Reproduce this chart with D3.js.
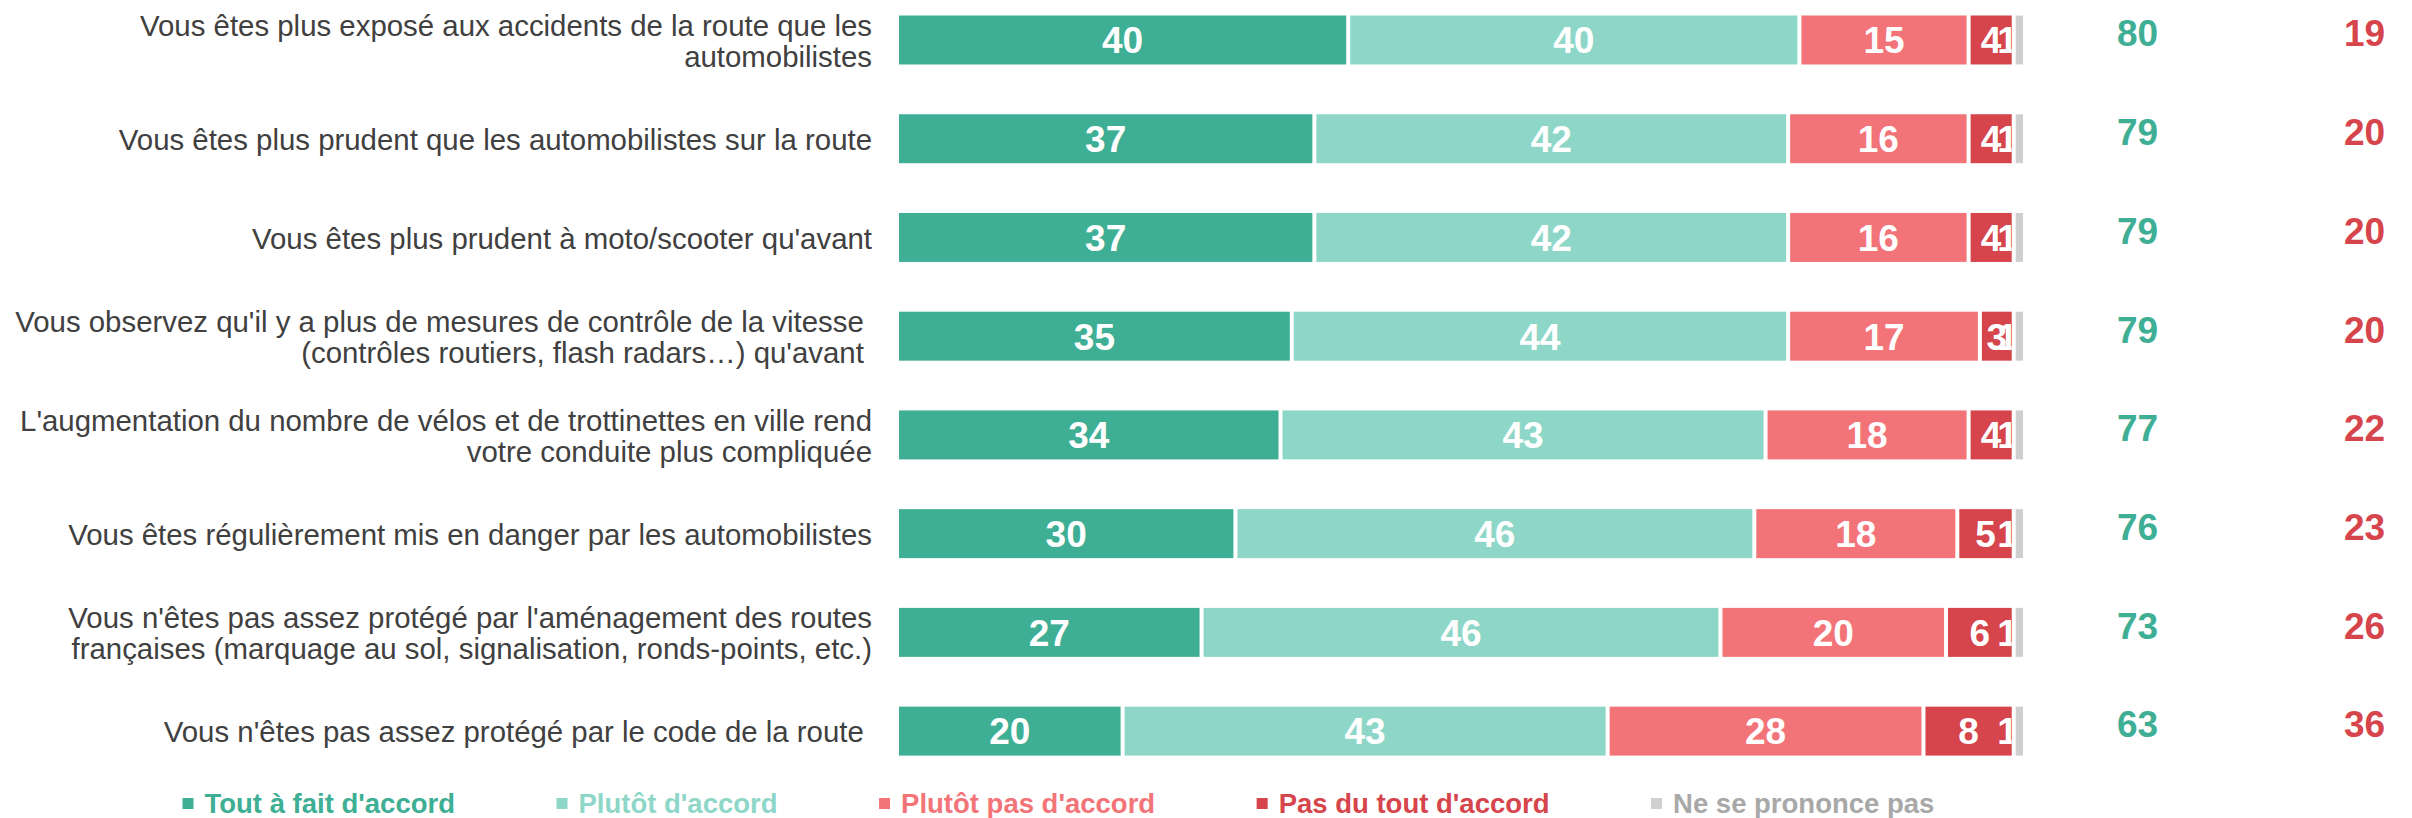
<!DOCTYPE html>
<html>
<head>
<meta charset="utf-8">
<script src="https://cdn.jsdelivr.net/npm/d3@7"></script>
<style>
  body { margin: 0; background: #fff; }
  svg { display: block; font-family: Arial, "Liberation Sans", sans-serif; }
</style>
</head>
<body>
<script>
// statements (each line of a label is one entry)
var labels = [
  ["Vous êtes plus exposé aux accidents de la route que les", "automobilistes"],
  ["Vous êtes plus prudent que les automobilistes sur la route"],
  ["Vous êtes plus prudent à moto/scooter qu'avant"],
  ["Vous observez qu'il y a plus de mesures de contrôle de la vitesse ", "(contrôles routiers, flash radars…) qu'avant "],
  ["L'augmentation du nombre de vélos et de trottinettes en ville rend", "votre conduite plus compliquée"],
  ["Vous êtes régulièrement mis en danger par les automobilistes"],
  ["Vous n'êtes pas assez protégé par l'aménagement des routes", "françaises (marquage au sol, signalisation, ronds-points, etc.)"],
  ["Vous n'êtes pas assez protégé par le code de la route "]
];

var series = ["Tout à fait d'accord", "Plutôt d'accord", "Plutôt pas d'accord", "Pas du tout d'accord", "Ne se prononce pas"];
var colors = ["#3eae94", "#8ed7c8", "#f27478", "#d6444c", "#d0cfd0"];
var legendTextColors = ["#3eae94", "#8ed7c8", "#f27478", "#d6444c", "#a8a8a8"];

var toutAFait  = [40, 37, 37, 35, 34, 30, 27, 20];
var plutot     = [40, 42, 42, 44, 43, 46, 46, 43];
var plutotPas  = [15, 16, 16, 17, 18, 18, 20, 28];
var pasDuTout  = [4, 4, 4, 3, 4, 5, 6, 8];
var nsp        = [1, 1, 1, 1, 1, 1, 1, 1];

var totalAccord    = [80, 79, 79, 79, 77, 76, 73, 63];
var totalPasAccord = [19, 20, 20, 20, 22, 23, 26, 36];

var w = 2412;
var h = 818;
var gap = 4;

var svg = d3.select("body")
  .append("svg")
  .attr("width", w)
  .attr("height", h);

var values = [toutAFait, plutot, plutotPas, pasDuTout, nsp];
var rows = labels.map(function(l, i) {
  var cum = 0;
  var segs = values.map(function(arr, k) {
    var s = {k: k, start: cum, v: arr[i], row: i};
    cum += arr[i];
    return s;
  });
  return {i: i, label: l, segs: segs};
});

var xScale = d3.scaleLinear().domain([0, 100]).range([899, 2027]);
var yScale = d3.scaleBand()
  .domain(d3.range(labels.length))
  .range([15.5, 755.6])
  .paddingInner(0.504)
  .paddingOuter(0);

var defs = svg.append("defs");

var g = svg.selectAll("g.row")
  .data(rows)
  .enter()
  .append("g")
  .attr("class", "row");

// clip for the "1" label of Ne se prononce pas: stays inside the dark red segment
g.each(function(d) {
  var red = d.segs[3];
  defs.append("clipPath")
    .attr("id", "clip" + d.i)
    .append("rect")
    .attr("x", xScale(red.start))
    .attr("y", yScale(d.i))
    .attr("width", xScale(red.start + red.v) - xScale(red.start) - gap)
    .attr("height", yScale.bandwidth());
});

g.selectAll("rect.seg")
  .data(function(d) { return d.segs; })
  .enter()
  .append("rect")
  .attr("class", "seg")
  .attr("x", function(d) { return xScale(d.start); })
  .attr("y", function(d) { return yScale(d.row); })
  .attr("width", function(d) { return Math.max(0, xScale(d.start + d.v) - xScale(d.start) - gap); })
  .attr("height", yScale.bandwidth())
  .attr("fill", function(d) { return colors[d.k]; });

// values inside bars
g.selectAll("text.val")
  .data(function(d) { return d.segs; })
  .enter()
  .append("text")
  .attr("class", "val")
  .attr("x", function(d) {
    if (d.k === 4) return xScale(d.start) - gap + 6;
    return (xScale(d.start) + xScale(d.start + d.v) - gap) / 2;
  })
  .attr("y", function(d) { return yScale(d.row) + yScale.bandwidth() / 2; })
  .attr("dy", "0.36em")
  .attr("text-anchor", function(d) { return d.k === 4 ? "end" : "middle"; })
  .attr("clip-path", function(d) { return d.k === 4 ? "url(#clip" + d.row + ")" : null; })
  .attr("font-size", "37px")
  .attr("font-weight", "bold")
  .attr("fill", "#fff")
  .text(function(d) { return d.v; });

// statement labels
g.append("text")
  .attr("class", "label")
  .attr("text-anchor", "end")
  .attr("font-size", "29.4px")
  .attr("fill", "#404040")
  .style("white-space", "pre")
  .each(function(d) {
    var t = d3.select(this);
    var n = d.label.length;
    var lh = 31;
    var cy = yScale(d.i) + yScale.bandwidth() / 2 + 1;
    d.label.forEach(function(line, j) {
      t.append("tspan")
        .attr("x", 872)
        .attr("y", cy + (j - (n - 1) / 2) * lh)
        .attr("dy", "0.35em")
        .text(line);
    });
  });

// totals
g.append("text")
  .attr("x", 2137.5)
  .attr("y", function(d) { return yScale(d.i) + yScale.bandwidth() / 2 - 7; })
  .attr("dy", "0.36em")
  .attr("text-anchor", "middle")
  .attr("font-size", "37px")
  .attr("font-weight", "bold")
  .attr("fill", colors[0])
  .text(function(d) { return totalAccord[d.i]; });

g.append("text")
  .attr("x", 2364.5)
  .attr("y", function(d) { return yScale(d.i) + yScale.bandwidth() / 2 - 7; })
  .attr("dy", "0.36em")
  .attr("text-anchor", "middle")
  .attr("font-size", "37px")
  .attr("font-weight", "bold")
  .attr("fill", colors[3])
  .text(function(d) { return totalPasAccord[d.i]; });

// legend
var lx = 182.5;
var ly = 803.5;
series.forEach(function(s, k) {
  svg.append("rect")
    .attr("x", lx)
    .attr("y", ly - 5.5)
    .attr("width", 11)
    .attr("height", 11)
    .attr("fill", colors[k]);
  var t = svg.append("text")
    .attr("x", lx + 22)
    .attr("y", ly)
    .attr("dy", "0.35em")
    .attr("font-size", "27.5px")
    .attr("font-weight", "bold")
    .attr("fill", legendTextColors[k])
    .text(s);
  lx += 22 + t.node().getComputedTextLength() + 101.5;
});
</script>
</body>
</html>
